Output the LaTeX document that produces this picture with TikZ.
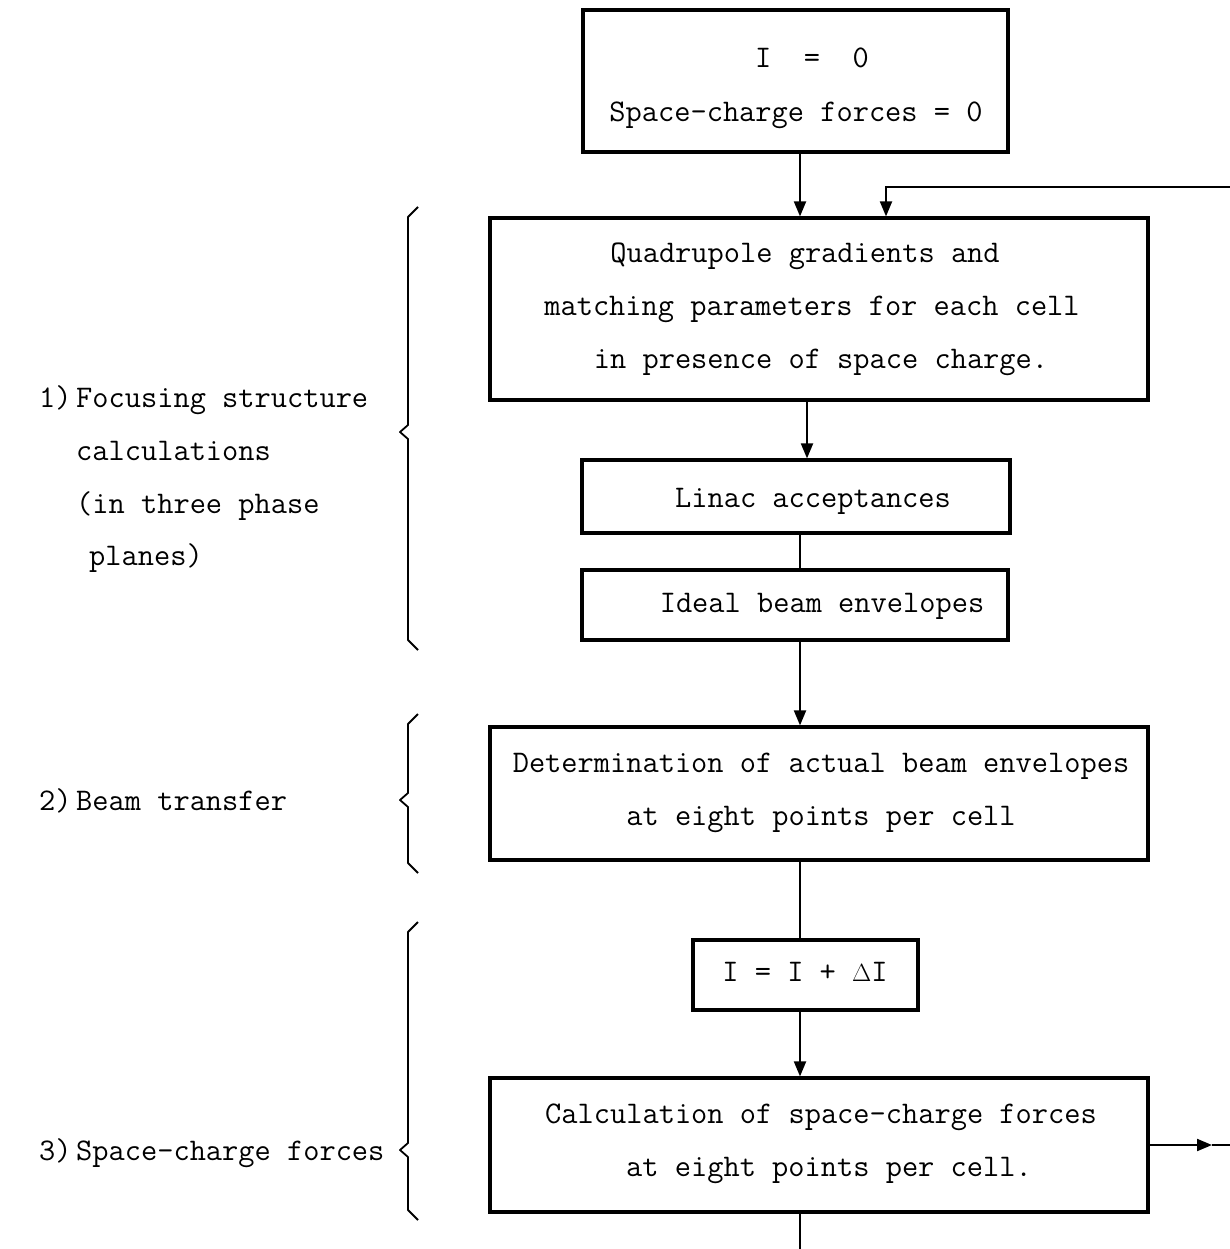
\documentclass[tikz,border=0pt]{standalone}
\usepackage{fontspec}
\usetikzlibrary{arrows.meta}
\begin{document}
\begin{tikzpicture}[x=1pt,y=-1pt,
  box/.style={draw, line width=3.2pt, inner sep=0pt},
  conn/.style={line width=2pt},
  arr/.style={conn, -{Triangle[width=12pt,length=15pt]}},
  txt/.style={font=\fontsize{31.5}{36}\selectfont\ttfamily, inner sep=0pt, anchor=base},
  ltxt/.style={txt, anchor=base west},
  bracestyle/.style={line width=1.8pt, line join=round}]
\useasboundingbox (0,0) rectangle (1230,1249);
% boxes
\node[box, minimum width=425pt, minimum height=142pt] (b1) at (795.5,81) {};
\node[box, minimum width=658pt, minimum height=182pt] (b2) at (819,309) {};
\node[box, minimum width=428pt, minimum height=73pt] (b3) at (796,496.5) {};
\node[box, minimum width=426pt, minimum height=70pt] (b4) at (795,605) {};
\node[box, minimum width=658pt, minimum height=133pt] (b5) at (819,793.5) {};
\node[box, minimum width=225pt, minimum height=70pt] (b6) at (805.5,975) {};
\node[box, minimum width=658pt, minimum height=134pt] (b7) at (819,1145) {};
% box texts
\node[txt] (t1a) at (812,68) {I~~=~~0};
\node[txt] (t1b) at (796,122) {Space-charge forces = 0};
\node[txt] (t2a) at (805,262) {Quadrupole gradients and};
\node[txt] (t2b) at (812,315) {matching parameters for each cell};
\node[txt] (t2c) at (821,368) {in presence of space charge.};
\node[txt] (t3) at (813,507) {Linac acceptances};
\node[txt] (t4) at (822,612) {Ideal beam envelopes};
\node[txt] (t5a) at (821,772) {Determination of actual beam envelopes};
\node[txt] (t5b) at (821,825) {at eight points per cell};
\node[txt] (t6) at (805,981) {I = I + $\Delta$I};
\node[txt] (t7a) at (821,1123) {Calculation of space-charge forces};
\node[txt] (t7b) at (829,1176) {at eight points per cell.};
% left texts
\node[ltxt] (n1) at (39,407) {1)};
\node[ltxt] (l1a) at (76,407) {Focusing structure};
\node[ltxt] (l1b) at (76,460) {calculations};
\node[ltxt] (l1c) at (76,513) {(in three phase};
\node[ltxt] (l1d) at (89,565) {planes)};
\node[ltxt] (n2) at (39,810) {2)};
\node[ltxt] (l2) at (76,810) {Beam transfer};
\node[ltxt] (n3) at (39,1160) {3)};
\node[ltxt] (l3) at (76,1160) {Space-charge forces};
% braces
\draw[bracestyle] (418,207) -- (408,217) -- (408,425) -- (400,432) -- (408,439) -- (408,640) -- (418,650);
\draw[bracestyle] (418,714) -- (408,724) -- (408,793) -- (400,800) -- (408,807) -- (408,863) -- (418,873);
\draw[bracestyle] (418,922) -- (408,932) -- (408,1143) -- (400,1150) -- (408,1157) -- (408,1210) -- (418,1220);
% connectors
\coordinate (x800) at (800,0);
\coordinate (x807) at (807,0);
\coordinate (x886) at (886,0);
\coordinate (fbin) at (1230,187);
\coordinate (outtip) at (1212,1145);
\coordinate (out) at (1230,1145);
\coordinate (bot) at (800,1249);
\draw[arr] (b1.south -| x800) -- (b2.north -| x800);
\draw[arr] (fbin) -- (fbin -| x886) -- (b2.north -| x886);
\draw[arr] (b2.south -| x807) -- (b3.north -| x807);
\draw[conn] (b3.south -| x800) -- (b4.north -| x800);
\draw[arr] (b4.south -| x800) -- (b5.north -| x800);
\draw[conn] (b5.south -| x800) -- (b6.north -| x800);
\draw[arr] (b6.south -| x800) -- (b7.north -| x800);
\draw[conn] (b7.south -| x800) -- (bot);
\draw[arr] (b7.east) -- (outtip);
\draw[conn] (outtip) -- (out);
\end{tikzpicture}
\end{document}
